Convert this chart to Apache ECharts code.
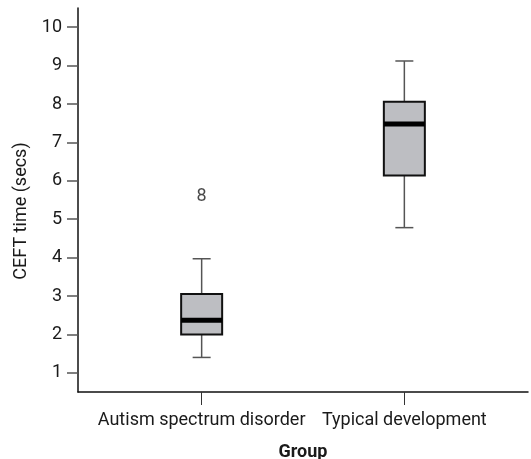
<!DOCTYPE html>
<html>
<head>
<meta charset="utf-8">
<script src="https://cdn.jsdelivr.net/npm/echarts@6/dist/echarts.min.js"></script>
<style>
html, body { margin: 0; padding: 0; background: #fff; }
#chart { width: 531px; height: 459px; }
</style>
</head>
<body>
<div id="chart"></div>
<script>
// groups on the x axis
var groups = ['Autism spectrum disorder', 'Typical development'];
var groupPos = [1, 2];
// box stats: low whisker, Q1, median, Q3, high whisker
var lowWhisker = [1.40, 4.78];
var q1 = [2.00, 6.14];
var median = [2.37, 7.48];
var q3 = [3.05, 8.06];
var highWhisker = [3.97, 9.12];
// outlier shown as a case number
var outlierGroup = [1];
var outlierValue = [5.59];
var outlierCase = ['8'];
var yTicks = [1, 2, 3, 4, 5, 6, 7, 8, 9, 10];

var boxData = [];
for (var i = 0; i < groups.length; i++) {
	boxData.push([groupPos[i], lowWhisker[i], q1[i], median[i], q3[i], highWhisker[i]]);
}
var outData = [];
for (var i = 0; i < outlierValue.length; i++) {
	outData.push([outlierGroup[i], outlierValue[i], outlierCase[i]]);
}

var font = 'Roboto, "DejaVu Sans", sans-serif';
var txt = '#1a1a1a';

function renderBox(params, api) {
	var x = api.value(0);
	var lo = api.coord([x, api.value(1)]);
	var b1 = api.coord([x, api.value(2)]);
	var md = api.coord([x, api.value(3)]);
	var b3 = api.coord([x, api.value(4)]);
	var hi = api.coord([x, api.value(5)]);
	var half = 20.5, cap = 9;
	var wStyle = { stroke: '#555', lineWidth: 1.5 };
	return {
		type: 'group',
		children: [
			{ type: 'line', shape: { x1: lo[0], y1: lo[1], x2: b1[0], y2: b1[1] }, style: wStyle },
			{ type: 'line', shape: { x1: b3[0], y1: b3[1], x2: hi[0], y2: hi[1] }, style: wStyle },
			{ type: 'line', shape: { x1: lo[0] - cap, y1: lo[1], x2: lo[0] + cap, y2: lo[1] }, style: wStyle },
			{ type: 'line', shape: { x1: hi[0] - cap, y1: hi[1], x2: hi[0] + cap, y2: hi[1] }, style: wStyle },
			{ type: 'rect', shape: { x: b3[0] - half, y: b3[1], width: half * 2, height: b1[1] - b3[1] },
				style: { fill: '#bdbec2', stroke: '#111', lineWidth: 2 } },
			{ type: 'line', shape: { x1: md[0] - half, y1: md[1], x2: md[0] + half, y2: md[1] },
				style: { stroke: '#000', lineWidth: 5 } }
		]
	};
}

var myChart = echarts.init(document.getElementById('chart'));
var option = {
	animation: false,
	grid: { left: 78, right: 3, top: 8, bottom: 67, outerBoundsMode: 'none', containLabel: false },
	xAxis: {
		type: 'value',
		min: 0.39,
		max: 2.61,
		name: 'Group',
		nameLocation: 'middle',
		nameGap: 51,
		nameTextStyle: { fontFamily: font, fontSize: 18, fontWeight: 'bold', color: txt },
		splitLine: { show: false },
		axisLine: { lineStyle: { color: '#111', width: 1.5 } },
		axisTick: { show: true, customValues: groupPos, length: 13, lineStyle: { color: '#333', width: 1 } },
		axisLabel: {
			customValues: groupPos,
			margin: 19,
			fontFamily: font, fontSize: 18, color: txt,
			formatter: function (v) { return groups[groupPos.indexOf(Math.round(v))] || ''; }
		}
	},
	yAxis: {
		type: 'value',
		min: 0.5,
		max: 10.5,
		name: 'CEFT time (secs)',
		nameLocation: 'middle',
		nameGap: 44,
		nameTextStyle: { fontFamily: font, fontSize: 18, color: txt, padding: [0, 22, 0, 0] },
		splitLine: { show: false },
		axisLine: { show: true, lineStyle: { color: '#111', width: 1.5 } },
		axisTick: { show: true, customValues: yTicks, length: 11, lineStyle: { color: '#555', width: 1.5 } },
		axisLabel: { customValues: yTicks, margin: 16, fontFamily: font, fontSize: 18, color: txt }
	},
	series: [
		{
			type: 'custom',
			renderItem: renderBox,
			encode: { x: 0, y: [1, 2, 3, 4, 5] },
			data: boxData
		},
		{
			type: 'scatter',
			symbolSize: 0,
			data: outData,
			label: {
				show: true,
				position: 'inside',
				formatter: function (p) { return p.data[2]; },
				fontFamily: font, fontSize: 18, color: txt
			}
		}
	]
};
myChart.setOption(option);
</script>
</body>
</html>
